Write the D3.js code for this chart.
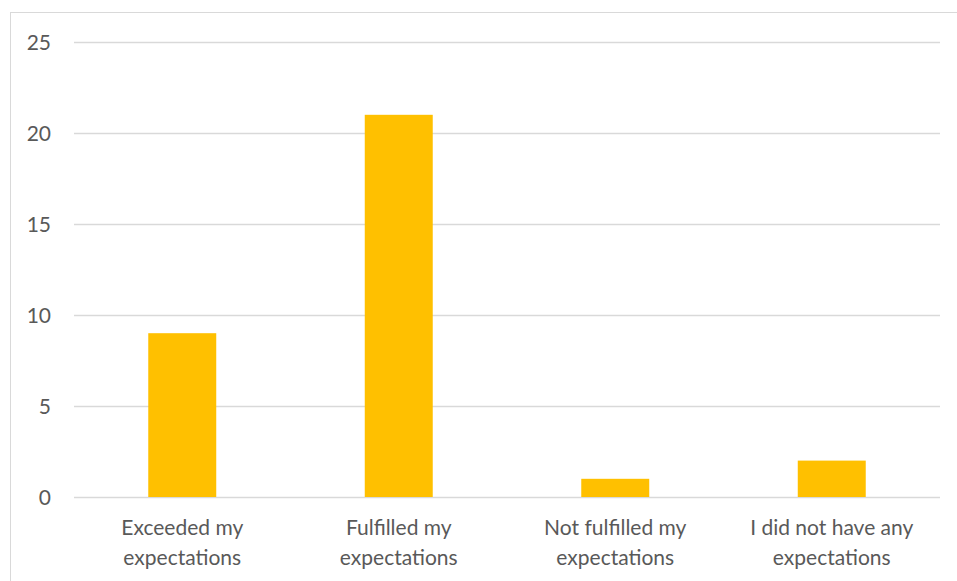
<!DOCTYPE html>
<html>
<head>
<meta charset="utf-8">
<script src="https://cdn.jsdelivr.net/npm/d3@7"></script>
<style>
  body { margin: 0; background: #fff; }
  svg { display: block; font-family: Lato, "Open Sans", sans-serif; }
</style>
</head>
<body>
<svg id="chart" width="957" height="581"></svg>
<script>
"use strict";

var categories = [
  ["Exceeded my", "expectations"],
  ["Fulfilled my", "expectations"],
  ["Not fulfilled my", "expectations"],
  ["I did not have any", "expectations"]
];
var values = [9, 21, 1, 2];
var yTicks = [0, 5, 10, 15, 20, 25];

var svg = d3.select("#chart");

// chart frame
svg.append("rect")
  .attr("x", 10.5).attr("y", 12.5)
  .attr("width", 960).attr("height", 600)
  .attr("fill", "none").attr("stroke", "#d9d9d9").attr("stroke-width", 1);

var plotLeft = 74, plotRight = 940, plotTop = 42, plotBottom = 497;

var x = d3.scaleBand()
  .domain(d3.range(categories.length))
  .range([plotLeft, plotRight])
  .padding(0);

var y = d3.scaleLinear()
  .domain([0, 25])
  .range([plotBottom, plotTop]);

// gridlines
svg.append("g").selectAll("line")
  .data(yTicks)
  .enter().append("line")
  .attr("x1", plotLeft).attr("x2", plotRight)
  .attr("y1", function(d) { return Math.round(y(d)) + 0.5; })
  .attr("y2", function(d) { return Math.round(y(d)) + 0.5; })
  .attr("stroke", "#d9d9d9").attr("stroke-width", 1.3);

// y labels
svg.append("g").selectAll("text")
  .data(yTicks)
  .enter().append("text")
  .attr("x", 51)
  .attr("y", function(d) { return y(d); })
  .attr("dy", "0.36em")
  .attr("text-anchor", "end")
  .attr("fill", "#595959")
  .attr("font-size", 21)
  .text(function(d) { return d; });

// bars
var barW = x.bandwidth() * 0.314;
svg.append("g").selectAll("rect")
  .data(values)
  .enter().append("rect")
  .attr("x", function(d, i) { return x(i) + (x.bandwidth() - barW) / 2; })
  .attr("y", function(d) { return y(d); })
  .attr("width", barW)
  .attr("height", function(d) { return y(0) - y(d); })
  .attr("fill", "#ffc000");

// category labels
var lab = svg.append("g").selectAll("text")
  .data(categories)
  .enter().append("text")
  .attr("text-anchor", "middle")
  .attr("fill", "#595959")
  .attr("font-size", 21);

lab.each(function(lines, i) {
  var t = d3.select(this);
  lines.forEach(function(line, j) {
    t.append("tspan")
      .attr("x", x(i) + x.bandwidth() / 2)
      .attr("y", 535 + j * 30)
      .text(line);
  });
});
</script>
</body>
</html>
